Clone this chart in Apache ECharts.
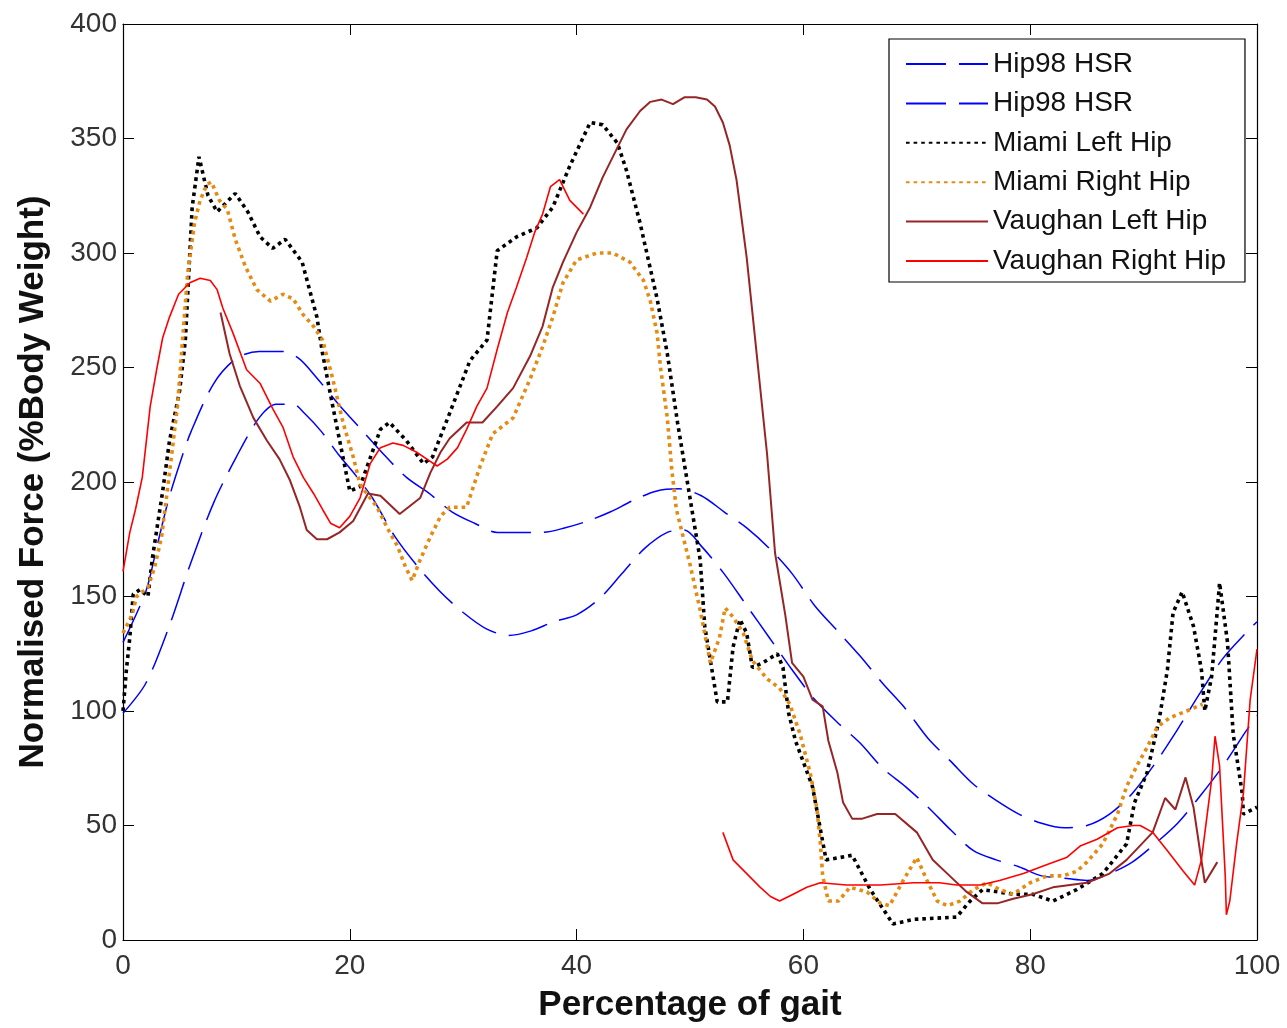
<!DOCTYPE html>
<html>
<head>
<meta charset="utf-8">
<title>Normalised hip force over the gait cycle</title>
<script src="https://cdn.jsdelivr.net/npm/echarts@6/dist/echarts.min.js"></script>
<style>
  html, body { margin: 0; padding: 0; background: #ffffff; }
  #chart { width: 1287px; height: 1028px; }
</style>
</head>
<body>
<div id="chart"></div>
<script>
// Axis ticks
var xTicks = [0, 20, 40, 60, 80, 100];
var yTicks = [0, 50, 100, 150, 200, 250, 300, 350, 400];

// Hip98 HSR, upper curve
var hipAX = [0, 2, 3, 4, 5, 6, 8, 10, 12, 14, 15.5, 17, 19, 21, 23, 25, 27, 29, 31, 33, 35, 37, 39, 41, 43, 45, 47, 49, 51, 53, 55, 57, 59, 61, 63, 65, 67, 69, 71, 73, 75, 77, 79, 81, 83, 85, 87, 89, 91, 93, 95, 97, 99, 100];
var hipAY = [130, 152, 172, 192, 208, 222, 243, 254, 257, 257, 254, 246, 234, 223, 212, 202, 195, 187, 182, 178, 178, 178, 180, 183, 187, 192, 196, 197, 194, 187, 180, 171, 160, 146, 135, 124, 112, 101, 88, 78, 68, 61, 55, 51, 49, 50, 55, 64, 77, 92, 108, 123, 134, 139];

// Hip98 HSR, lower curve
var hipBX = [0, 2, 4, 6, 8, 10, 12, 13.5, 15, 16, 17.5, 19, 20.5, 22, 24, 26, 28, 30, 32, 34, 36, 38, 40, 42, 44, 46, 48, 49.5, 51, 53, 55, 57, 59, 61, 63, 65, 67, 69, 71, 73, 75, 77, 79, 81, 83, 85, 87, 89, 91, 93, 95, 97, 99, 100];
var hipBY = [99, 112, 136, 165, 191, 211, 228, 234, 234, 230, 222, 212, 203, 193, 176, 163, 152, 143, 136, 133, 135, 139, 142, 149, 160, 171, 178, 179, 172, 160, 146, 132, 118, 105, 95, 86, 75, 67, 58, 48, 39, 35, 32, 28, 27, 26, 29, 34, 42, 51, 63, 76, 91, 98];

// Miami Left Hip
var miamiLX = [0, 0.3, 0.6, 0.9, 1.5, 2.2, 2.6, 3.5, 4.1, 5, 5.5, 6.1, 6.7, 7.5, 8.3, 9.9, 11, 12.1, 13.2, 14.3, 15.8, 17.1, 17.6, 18.5, 20, 20.9, 22.7, 23.5, 25, 26.5, 27.3, 28.8, 30.6, 32.1, 33, 34.7, 36.5, 37.9, 39.4, 41.2, 42.3, 43.6, 44.4, 45.6, 47.1, 48, 48.9, 50, 50.9, 51.3, 51.8, 52.4, 53.3, 53.8, 54.4, 55, 55.5, 56.4, 57.7, 58.2, 58.7, 59.3, 60.8, 62, 63.2, 64.3, 65.9, 67.9, 69.7, 73.5, 74.7, 75.8, 78.5, 80.2, 82, 84.1, 86.4, 88.5, 89.2, 90.3, 91.4, 92.1, 92.6, 93.4, 94.4, 95.1, 95.4, 96, 96.5, 96.7, 97.4, 97.9, 98.7, 98.8, 100];
var miamiLY = [100, 118, 132, 151, 153, 150, 167, 196, 218, 240, 262, 320, 342, 325, 318, 326, 318, 307, 302, 306, 296, 272, 256, 233, 196, 198, 223, 226, 218, 208, 211, 230, 253, 262, 301, 307, 311, 320, 338, 357, 356, 348, 336, 313, 280, 256, 226, 193, 166, 137, 122, 104, 104, 128, 140, 134, 119, 121, 125, 119, 99, 87, 67, 35, 36, 37, 22, 7, 9, 10, 17, 22, 20, 20, 17, 22, 29, 42, 60, 73, 97, 118, 143, 152, 137, 118, 100, 115, 144, 156, 130, 90, 64, 55, 58];

// Miami Right Hip
var miamiRX = [0, 0.8, 1.2, 2.2, 2.8, 3.4, 4.1, 4.8, 5.3, 5.7, 6.3, 6.8, 7.4, 7.8, 8.5, 9.2, 9.9, 10.8, 11.8, 13, 14.1, 15, 15.9, 16.8, 17.6, 18.5, 19.4, 20.3, 20.9, 21.5, 22.4, 23.3, 24.2, 24.9, 25.5, 26.2, 27.1, 28, 28.8, 30.3, 31.5, 32.6, 34.4, 35.9, 37, 37.9, 38.8, 40, 41.8, 43.2, 44.7, 45.9, 46.5, 47.1, 47.4, 48, 48.4, 48.8, 49.4, 50, 50.9, 51.8, 52.6, 53.1, 53.8, 54.7, 55.5, 56.8, 57.9, 58.8, 59.7, 60.6, 61.2, 61.5, 61.7, 62.2, 63.1, 64.1, 65.6, 66.8, 67.6, 68.8, 70, 70.9, 71.8, 72.7, 73.8, 75, 76.2, 77.3, 78.5, 80, 81.5, 82.9, 84.1, 85, 86.4, 87.7, 88.5, 89.4, 90.3, 91.2, 92.3, 93.8, 95.2];
var miamiRY = [134, 142, 150, 154, 163, 176, 204, 233, 265, 291, 313, 323, 330, 331, 323, 319, 306, 294, 284, 279, 282, 280, 273, 268, 262, 245, 226, 211, 199, 195, 189, 180, 172, 163, 157, 166, 176, 185, 189, 189, 207, 221, 228, 245, 259, 272, 287, 297, 300, 300, 296, 288, 279, 265, 250, 228, 205, 188, 176, 164, 144, 121, 132, 145, 141, 134, 122, 114, 110, 103, 90, 73, 57, 42, 28, 17, 17, 23, 21, 16, 15, 26, 36, 26, 17, 15, 17, 22, 25, 22, 20, 25, 28, 28, 30, 34, 42, 55, 67, 76, 84, 93, 97, 100, 103];

// Vaughan Left Hip
var vaughanLX = [8.6, 9.4, 10.3, 11.5, 12.7, 13.8, 14.7, 15.6, 16.2, 17.1, 18, 19.1, 20.3, 21.6, 22.7, 24.4, 26.2, 27.1, 28, 28.8, 30.3, 31.7, 33, 34.4, 35.9, 37, 37.9, 38.8, 40, 41.2, 42.3, 43.6, 44.4, 45.6, 46.5, 47.5, 48.5, 49.5, 50.5, 51.5, 52.2, 52.9, 53.5, 54.1, 55, 55.9, 56.8, 57.5, 58.4, 59, 60, 60.8, 61.7, 62.2, 63, 63.5, 64.3, 65.2, 66.5, 68.1, 70, 71.4, 72.9, 74.4, 75.8, 77.1, 78.5, 80.2, 82, 85, 87, 88.5, 90.8, 91.9, 92.8, 93.7, 94.4, 95, 95.4, 96.5];
var vaughanLY = [274, 256, 242, 228, 218, 210, 201, 189, 179, 175, 175, 178, 183, 195, 194, 186, 193, 204, 213, 219, 226, 226, 233, 241, 255, 268, 285, 296, 309, 320, 333, 346, 354, 362, 366, 367, 365, 368, 368, 367, 364, 357, 347, 332, 298, 255, 212, 169, 142, 121, 115, 105, 102, 87, 73, 60, 53, 53, 55, 55, 47, 35, 28, 21, 16, 16, 18, 20, 23, 25, 29, 35, 47, 62, 57, 71, 58, 38, 25, 34];

// Vaughan Right Hip (two recorded stretches)
var vaughanR1X = [0, 0.6, 1.1, 1.7, 2.4, 3, 3.5, 4.1, 4.9, 5.9, 6.8, 7.7, 8.3, 8.8, 9.7, 10.9, 12.1, 13.2, 14.1, 15, 15.9, 16.8, 17.6, 18.3, 19.1, 20, 20.9, 21.8, 22.7, 23.8, 24.7, 25.9, 26.8, 27.7, 28.6, 29.5, 30.3, 31.2, 32.1, 33, 33.9, 34.7, 35.6, 36.3, 37, 37.7, 38.5, 39.4, 40.6];
var vaughanR1Y = [161, 178, 188, 202, 233, 250, 263, 272, 282, 287, 289, 288, 284, 276, 265, 249, 243, 232, 224, 211, 202, 195, 188, 182, 180, 185, 193, 208, 215, 217, 216, 213, 210, 207, 210, 215, 223, 233, 241, 258, 274, 285, 298, 309, 317, 329, 332, 323, 317];
var vaughanR2X = [52.9, 53.8, 55, 56.2, 57.1, 57.9, 59.1, 60.3, 61.5, 63.8, 66.8, 69.7, 72, 73.5, 75.6, 77.3, 79.4, 81.5, 83.2, 84.4, 85.9, 87.7, 89.1, 89.7, 90.8, 92.1, 93.5, 94.5, 95.1, 96, 96.3, 96.7, 97.2, 97.3, 97.6, 98.2, 98.8, 99.4, 100];
var vaughanR2Y = [47, 35, 29, 23, 19, 17, 20, 23, 25, 24, 24, 25, 25, 24, 24, 26, 29, 33, 36, 41, 44, 49, 50, 50, 47, 39, 30, 24, 35, 70, 89, 76, 28, 11, 17, 42, 64, 105, 127];

var legendText = {
  hipA: 'Hip98 HSR',
  hipB: 'Hip98 HSR',
  miamiL: 'Miami Left Hip',
  miamiR: 'Miami Right Hip',
  vaughanL: 'Vaughan Left Hip',
  vaughanR: 'Vaughan Right Hip'
};

function pairs(xs, ys) {
  return xs.map(function (x, i) { return [x, ys[i]]; });
}

var vaughanRData = pairs(vaughanR1X, vaughanR1Y)
  .concat([[46, null]])
  .concat(pairs(vaughanR2X, vaughanR2Y));

var FONT = '"Liberation Sans", Arial, Helvetica, sans-serif';

function lineSeries(name, data, color, width, dash, smooth) {
  return {
    name: name,
    type: 'line',
    data: data,
    symbol: 'none',
    showSymbol: false,
    smooth: smooth || false,
    connectNulls: false,
    animation: false,
    itemStyle: { color: color },
    lineStyle: { color: color, width: width, type: dash, cap: 'butt', join: 'bevel' },
    emphasis: { disabled: true }
  };
}

var chart = echarts.init(document.getElementById('chart'), null, { renderer: 'canvas' });

var tickStyle = { show: true, inside: true, length: 11, lineStyle: { color: '#000', width: 1 } };
var lineAxis = { show: true, onZero: false, lineStyle: { color: '#000', width: 1.2 } };

chart.setOption({
  backgroundColor: '#ffffff',
  animation: false,
  grid: { left: 123, right: 30, top: 24, bottom: 88, containLabel: false },
  xAxis: [
    {
      type: 'value', position: 'bottom', min: xTicks[0], max: xTicks[xTicks.length - 1], interval: 20,
      axisLine: lineAxis, axisTick: tickStyle, splitLine: { show: false },
      axisLabel: { show: true, fontFamily: FONT, fontSize: 28, color: '#333', margin: 12 },
      name: 'Percentage of gait', nameLocation: 'middle', nameGap: 48,
      nameTextStyle: { fontFamily: FONT, fontSize: 35, fontWeight: 'bold', color: '#111' }
    },
    {
      type: 'value', position: 'top', min: xTicks[0], max: xTicks[xTicks.length - 1], interval: 20,
      axisLine: lineAxis, axisTick: tickStyle, splitLine: { show: false }, axisLabel: { show: false }
    }
  ],
  yAxis: [
    {
      type: 'value', position: 'left', min: yTicks[0], max: yTicks[yTicks.length - 1], interval: 50,
      axisLine: lineAxis, axisTick: tickStyle, splitLine: { show: false },
      axisLabel: { show: true, fontFamily: FONT, fontSize: 28, color: '#333', margin: 6 },
      name: 'Normalised Force (%Body Weight)', nameLocation: 'middle', nameGap: 72,
      nameTextStyle: { fontFamily: FONT, fontSize: 35, fontWeight: 'bold', color: '#111' }
    },
    {
      type: 'value', position: 'right', min: yTicks[0], max: yTicks[yTicks.length - 1], interval: 50,
      axisLine: lineAxis, axisTick: tickStyle, splitLine: { show: false }, axisLabel: { show: false }
    }
  ],
  legend: {
    show: true,
    orient: 'vertical',
    left: 889,
    top: 39,
    padding: [11, 19, 7, 16],
    itemWidth: 82,
    itemHeight: 14,
    itemGap: 11.4,
    itemTextGap: 6,
    backgroundColor: '#ffffff',
    borderColor: '#000',
    borderWidth: 1.2,
    borderRadius: 0,
    selectedMode: false,
    itemStyle: { opacity: 0 },
    lineStyle: { width: 2, opacity: 1 },
    textStyle: { fontFamily: FONT, fontSize: 28, color: '#111' },
    formatter: function (name) { return legendText[name]; },
    data: ['hipA', 'hipB', 'miamiL', 'miamiR', 'vaughanL', 'vaughanR']
  },
  series: [
    lineSeries('hipA', pairs(hipAX, hipAY), '#0000ff', 1.5, [40, 13], 0.3),
    lineSeries('hipB', pairs(hipBX, hipBY), '#0000ff', 1.5, [40, 13], 0.3),
    lineSeries('miamiL', pairs(miamiLX, miamiLY), '#000000', 3.6, [3.6, 4]),
    lineSeries('miamiR', pairs(miamiRX, miamiRY), '#e38b12', 3.6, [3.6, 4]),
    lineSeries('vaughanL', pairs(vaughanLX, vaughanLY), '#962626', 2, 'solid'),
    lineSeries('vaughanR', vaughanRData, '#ff0000', 1.6, 'solid')
  ]
});
</script>
</body>
</html>
